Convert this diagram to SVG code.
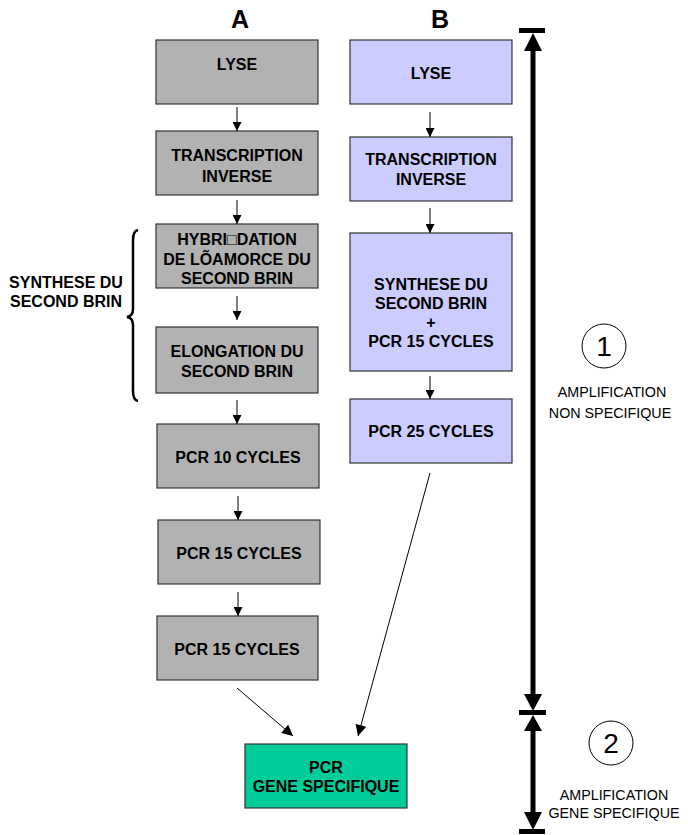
<svg xmlns="http://www.w3.org/2000/svg" width="688" height="835" viewBox="0 0 688 835">
<defs>
<style>
.a{fill:#B2B2B2;stroke:#333;stroke-width:1.2}
.b{fill:#CCCCFF;stroke:#333;stroke-width:1.2}
.g{fill:#00CC99;stroke:#333;stroke-width:1.2}
.t{font-family:"Liberation Sans",Arial,sans-serif;font-weight:bold;font-size:16px;fill:#000;text-anchor:middle}
.n{font-family:"Liberation Sans",Arial,sans-serif;font-size:14.3px;fill:#000;text-anchor:middle}
.h{font-family:"Liberation Sans",Arial,sans-serif;font-weight:bold;font-size:25px;fill:#000;text-anchor:middle}
.c{font-family:"Liberation Sans",Arial,sans-serif;font-size:28px;fill:#000;text-anchor:middle}
.l{stroke:#000;stroke-width:1;fill:none}
</style>
<marker id="ar" viewBox="0 0 10 10" refX="10" refY="5" markerUnits="userSpaceOnUse" markerWidth="9" markerHeight="9" orient="auto">
<path d="M0,0 L10,5 L0,10 Z" fill="#000"/>
</marker>
<marker id="ar2" viewBox="0 0 10 10" refX="10" refY="5" markerUnits="userSpaceOnUse" markerWidth="12" markerHeight="11" orient="auto">
<path d="M0,0 L10,5 L0,10 Z" fill="#000"/>
</marker>
</defs>
<rect width="688" height="835" fill="#fff"/>

<text class="h" x="240" y="28">A</text>
<text class="h" x="440" y="28">B</text>

<g id="a-lyse"><rect class="a" x="156" y="40" width="162" height="64"/><text class="t" x="237" y="70">LYSE</text></g>
<g id="a-transcription"><rect class="a" x="156" y="131" width="162" height="64"/><text class="t" x="237" y="161">TRANSCRIPTION</text><text class="t" x="237" y="182">INVERSE</text></g>
<g id="a-hybridation"><rect class="a" x="156" y="224" width="162" height="64"/><text class="t" x="237" y="245">HYBRI□DATION</text><text class="t" x="237" y="265">DE LÕAMORCE DU</text><text class="t" x="237" y="284">SECOND BRIN</text></g>
<g id="a-elongation"><rect class="a" x="156" y="327" width="162" height="66"/><text class="t" x="237" y="357">ELONGATION DU</text><text class="t" x="237" y="377">SECOND BRIN</text></g>
<g id="a-pcr10"><rect class="a" x="157" y="424" width="162" height="64"/><text class="t" x="238" y="463">PCR 10 CYCLES</text></g>
<g id="a-pcr15a"><rect class="a" x="158" y="520" width="162" height="64"/><text class="t" x="239" y="559">PCR 15 CYCLES</text></g>
<g id="a-pcr15b"><rect class="a" x="157" y="616" width="161" height="64"/><text class="t" x="237" y="655">PCR 15 CYCLES</text></g>

<g id="b-lyse"><rect class="b" x="350" y="40" width="162" height="64"/><text class="t" x="431" y="79">LYSE</text></g>
<g id="b-transcription"><rect class="b" x="350" y="137" width="162" height="64"/><text class="t" x="431" y="165">TRANSCRIPTION</text><text class="t" x="431" y="185">INVERSE</text></g>
<g id="b-synthese"><rect class="b" x="350" y="233" width="162" height="138"/><text class="t" x="431" y="290">SYNTHESE DU</text><text class="t" x="431" y="309">SECOND BRIN</text><text class="t" x="431" y="328">+</text><text class="t" x="431" y="347">PCR 15 CYCLES</text></g>
<g id="b-pcr25"><rect class="b" x="350" y="399" width="162" height="64"/><text class="t" x="431" y="437">PCR 25 CYCLES</text></g>

<g id="pcr-gene"><rect class="g" x="245" y="744" width="162" height="64"/><text class="t" x="326" y="773">PCR</text><text class="t" x="326" y="792">GENE SPECIFIQUE</text></g>

<g id="label-synthese"><text class="t" x="66" y="288">SYNTHESE DU</text><text class="t" x="66" y="307">SECOND BRIN</text>
<path d="M138,230 Q133,231 133,240 L133,309 Q133,316 127,317 Q133,318 133,325 L133,391 Q133,400 138,401" fill="none" stroke="#000" stroke-width="2.5"/></g>

<g id="connectors">
<line class="l" x1="237" y1="107" x2="237" y2="131" marker-end="url(#ar)"/>
<line class="l" x1="237" y1="200" x2="237" y2="224" marker-end="url(#ar)"/>
<line class="l" x1="237" y1="296" x2="237" y2="320" marker-end="url(#ar)"/>
<line class="l" x1="237" y1="400" x2="237" y2="424" marker-end="url(#ar)"/>
<line class="l" x1="238" y1="496" x2="238" y2="520" marker-end="url(#ar)"/>
<line class="l" x1="238" y1="592" x2="238" y2="616" marker-end="url(#ar)"/>
<line class="l" x1="430" y1="112" x2="430" y2="137" marker-end="url(#ar)"/>
<line class="l" x1="430" y1="208" x2="430" y2="233" marker-end="url(#ar)"/>
<line class="l" x1="430" y1="376" x2="430" y2="399" marker-end="url(#ar)"/>
<line class="l" x1="237" y1="688" x2="293" y2="736" marker-end="url(#ar2)"/>
<line class="l" x1="430" y1="473" x2="358" y2="736" marker-end="url(#ar2)"/>
</g>

<g id="scale">
<rect x="519" y="28" width="26" height="5" fill="#000"/>
<polygon points="533,33 524,51 542,51" fill="#000"/>
<line x1="533" y1="50" x2="533" y2="696" stroke="#000" stroke-width="5"/>
<polygon points="533,711 524,694 542,694" fill="#000"/>
<rect x="519" y="710" width="27" height="5" fill="#000"/>
<polygon points="533,715 524,731 542,731" fill="#000"/>
<line x1="533" y1="730" x2="533" y2="814" stroke="#000" stroke-width="5"/>
<polygon points="533,830 524,812 542,812" fill="#000"/>
<rect x="519" y="829" width="26" height="5" fill="#000"/>
</g>

<g id="stage1">
<circle cx="604" cy="346" r="22" fill="none" stroke="#000" stroke-width="1"/>
<text class="c" x="604" y="356">1</text>
<text class="n" x="612" y="397">AMPLIFICATION</text>
<text class="n" x="610" y="418">NON SPECIFIQUE</text>
</g>
<g id="stage2">
<circle cx="611" cy="743" r="22" fill="none" stroke="#000" stroke-width="1"/>
<text class="c" x="611" y="753">2</text>
<text class="n" x="614" y="800">AMPLIFICATION</text>
<text class="n" x="614" y="818">GENE SPECIFIQUE</text>
</g>
</svg>
